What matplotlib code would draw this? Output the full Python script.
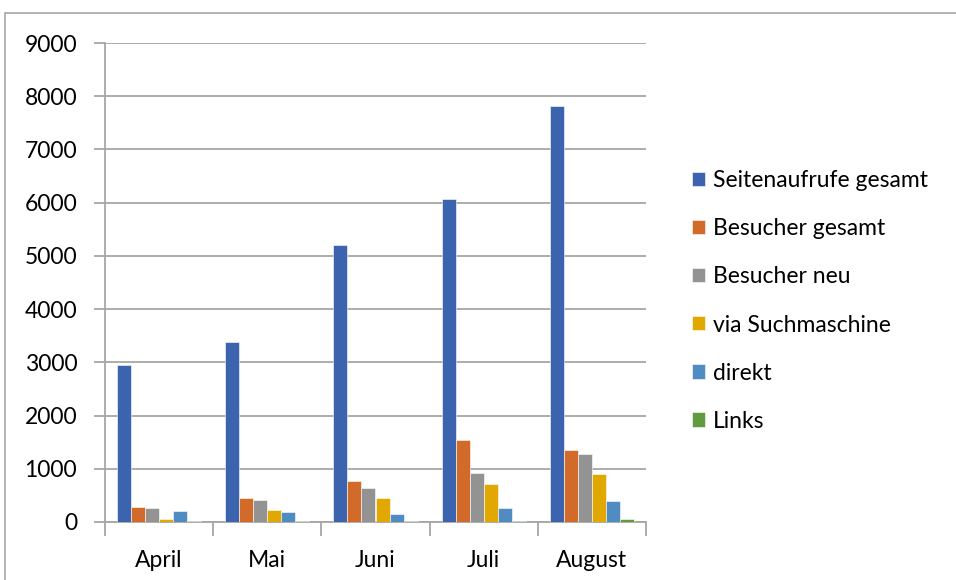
import numpy as np
import matplotlib.pyplot as plt
from matplotlib.patches import Rectangle

months = ['April', 'Mai', 'Juni', 'Juli', 'August']
series = ['Seitenaufrufe gesamt', 'Besucher gesamt', 'Besucher neu',
          'via Suchmaschine', 'direkt', 'Links']
seitenaufrufe = [2950, 3390, 5200, 6060, 7820]
besucher_gesamt = [280, 445, 775, 1550, 1345]
besucher_neu = [255, 405, 630, 930, 1275]
suchmaschine = [55, 230, 455, 705, 900]
direkt = [205, 195, 155, 270, 395]
links = [10, 15, 15, 15, 50]
colors = ['#3C64AE', '#D26B2A', '#939393', '#E0A800', '#508BC2', '#629A3F']

plt.rcParams['font.family'] = ['Lato', 'DejaVu Sans']

fig = plt.figure(figsize=(9.56, 5.80), dpi=100)
ax = fig.add_axes([105/956, 58/580, 541/956, 479/580])

# outer chart border (runs off the right and bottom)
fig.patches.append(Rectangle((5/956, -0.1), 1.2, (567/580) + 0.1,
                             transform=fig.transFigure, fill=False,
                             edgecolor='#A6A6A6', linewidth=1.2))

data = [seitenaufrufe, besucher_gesamt, besucher_neu, suchmaschine, direkt, links]
x = np.arange(len(months))
w = 0.13
for i, vals in enumerate(data):
    ax.bar(x - 2.5 * w + i * w, vals, width=w, color=colors[i],
           edgecolor='white', linewidth=0.4, label=series[i], zorder=3)

ax.set_xlim(-0.5, 4.5)
ax.set_ylim(0, 9000)
ax.set_yticks(range(0, 9001, 1000))
ax.yaxis.grid(True, color='#A6A6A6', linewidth=1.3, zorder=0)
ax.set_xticks(np.arange(-0.5, 5, 1))
ax.set_xticklabels([])
ax.set_xticks(x, minor=True)
ax.set_xticklabels(months, minor=True)
ax.tick_params(axis='x', which='major', length=10, color='#A6A6A6', width=1.3)
ax.tick_params(axis='x', which='minor', length=0, pad=20, labelsize=16.5)
ax.tick_params(axis='y', length=8, color='#A6A6A6', width=1.3, pad=12, labelsize=16.5)
for s in ['top', 'right']:
    ax.spines[s].set_visible(False)
for s in ['left', 'bottom']:
    ax.spines[s].set_color('#A6A6A6')
    ax.spines[s].set_linewidth(1.3)

fig.legend(loc='center left', bbox_to_anchor=(671/956, 1 - 301/580),
           frameon=False, fontsize=16.5, handlelength=0.57, handleheight=0.57,
           handletextpad=0.35, labelspacing=1.18)

fig.savefig('out.png', dpi=100)
